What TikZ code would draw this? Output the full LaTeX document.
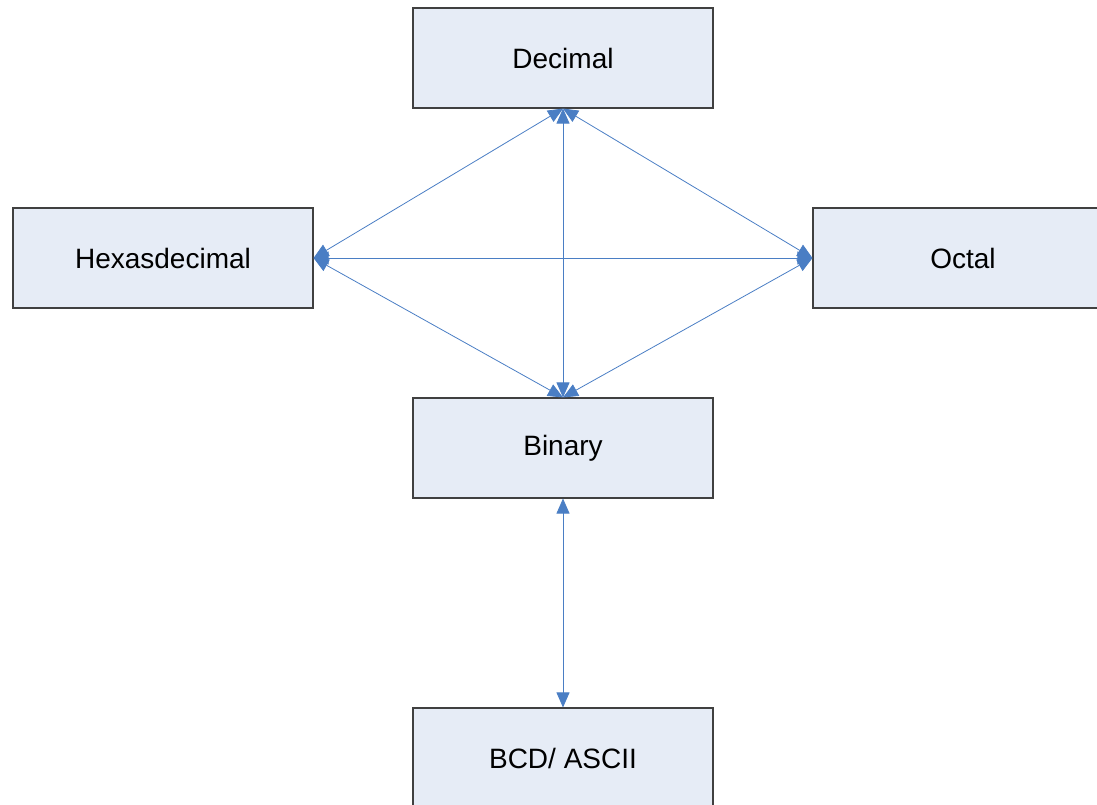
\documentclass[tikz,border=0pt]{standalone}
\usepackage{fontspec}
\setmainfont{Liberation Sans}
\usetikzlibrary{arrows.meta}
\definecolor{boxfill}{HTML}{E6ECF6}
\definecolor{boxline}{HTML}{404040}
\definecolor{conn}{HTML}{4A7EC4}
\begin{document}
\begin{tikzpicture}[x=1pt,y=-1pt,
  numbox/.style={draw=boxline,fill=boxfill,line width=1.1pt,minimum width=300pt,minimum height=100pt,inner sep=0pt,font=\fontsize{28}{32}\selectfont},
  link/.style={draw=conn,line width=0.8pt,{Triangle[length=15pt,width=13pt]}-{Triangle[length=15pt,width=13pt]},color=conn}]
\useasboundingbox (0,0) rectangle (1097,804);
\clip (0,0) rectangle (1097,804);
\node[numbox] (dec) at (563,58) {Decimal};
\node[numbox] (hex) at (163,258) {Hexasdecimal};
\node[numbox] (oct) at (963,258) {Octal};
\node[numbox] (bin) at (563,448) {Binary};
\node[numbox] (bcd) at (563,758) {BCD/ ASCII};
\draw[link] (hex.east) -- (dec.south);
\draw[link] (oct.west) -- (dec.south);
\draw[link] (bin.north) -- (dec.south);
\draw[link] (hex.east) -- (oct.west);
\draw[link] (hex.east) -- (bin.north);
\draw[link] (oct.west) -- (bin.north);
\draw[link] (bin.south) -- (bcd.north);
\end{tikzpicture}
\end{document}
